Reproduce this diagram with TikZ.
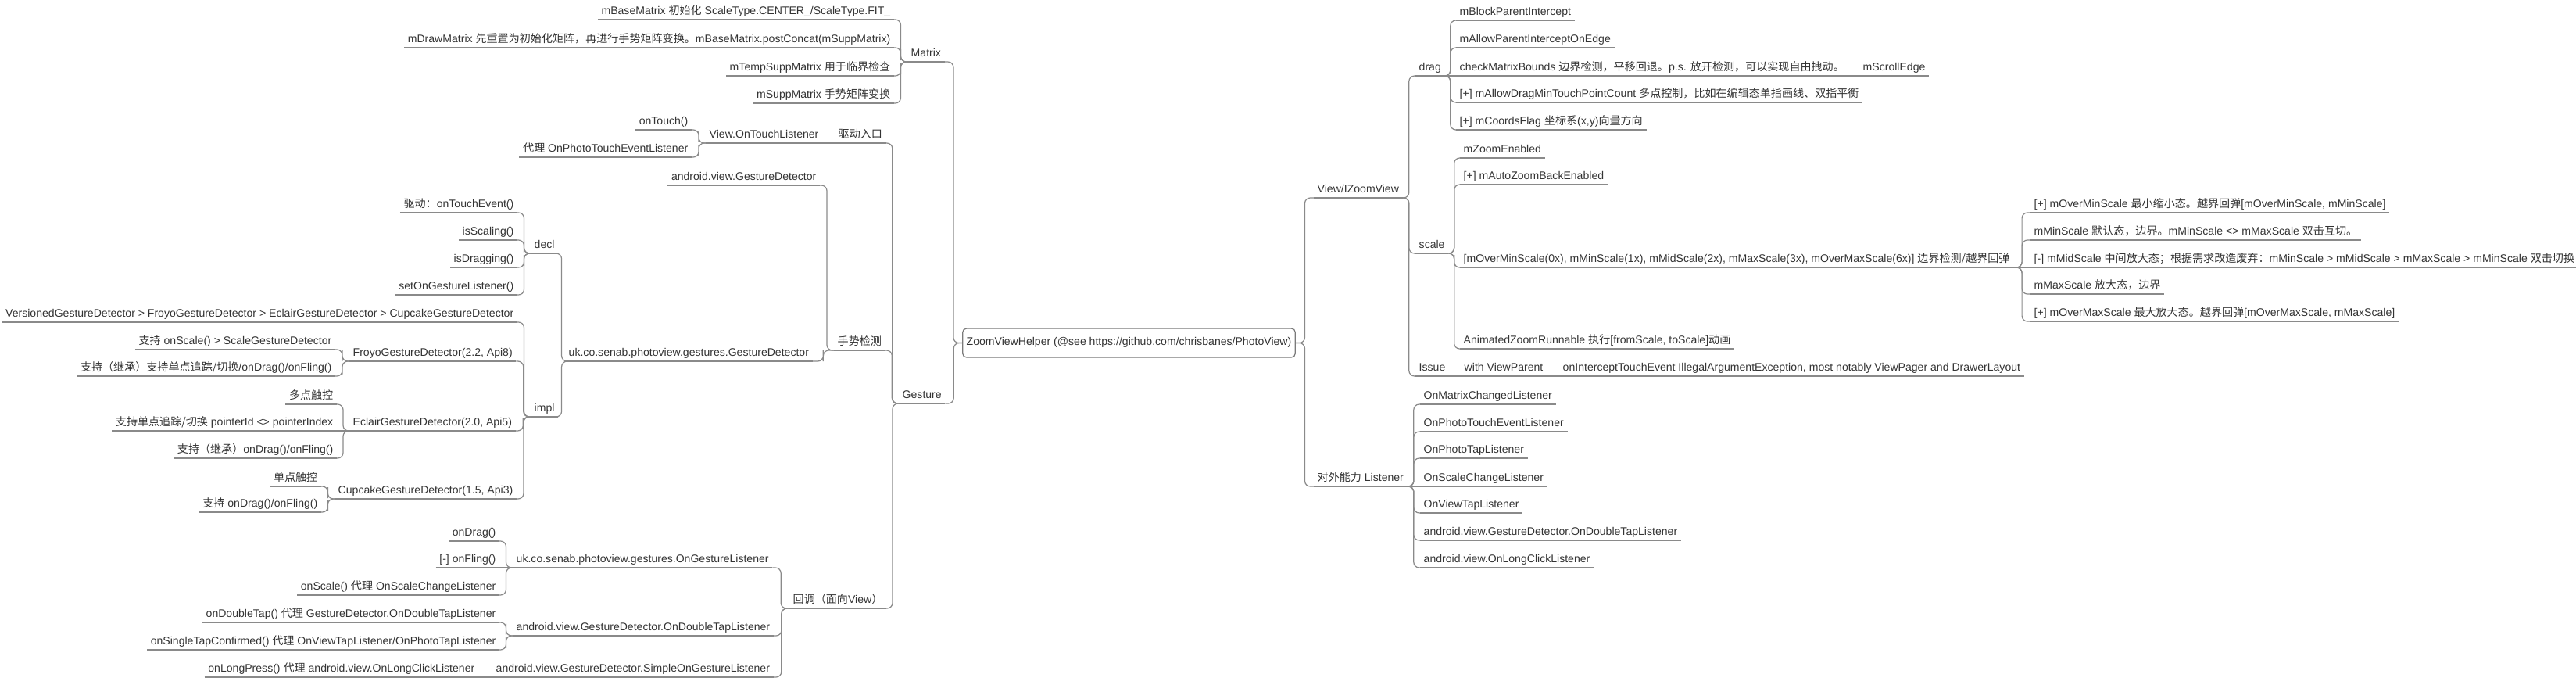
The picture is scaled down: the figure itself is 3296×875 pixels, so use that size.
\documentclass[tikz,border=0pt]{standalone}
\usepackage{fontspec}
\setmainfont{Liberation Sans}
\newfontfamily\zhfont{Noto Sans CJK SC}
\newcommand\zh[1]{{\zhfont #1}}
\usepackage{tikz}
\usetikzlibrary{calc}
\usepackage{xcolor}
\definecolor{TextDark}{HTML}{333333}
\definecolor{LineGray}{HTML}{8A8A8A}
\definecolor{RootGray}{HTML}{7A7A7A}

\tikzset{
  wire/.style={draw=LineGray,line width=0.35pt},
  link/.style={wire,rounded corners=0.07cm},
  br/.style={to path={-| ($(\tikztostart)!0.5!(\tikztotarget)$) |- (\tikztotarget)}},
  txt/.style={font=\fontsize{4}{5}\selectfont,text=TextDark,inner xsep=0.04cm,inner ysep=0.02cm,
    text height=0.1cm,text depth=0.035cm,
    append after command={(\tikzlastnode.south west) edge[wire] (\tikzlastnode.south east)}},
  lt/.style={txt,anchor=south east},
  rt/.style={txt,anchor=south west},
  rootbox/.style={draw=RootGray,line width=0.35pt,rounded corners=0.05cm,fill=white,
    font=\fontsize{4}{5}\selectfont,text=TextDark,inner xsep=0.05cm,
    text height=0.1cm,text depth=0.035cm,minimum height=0.27cm}
}

\begin{document}
\begin{tikzpicture}[x=0.01cm,y=-0.01cm]
        \useasboundingbox (0,0) rectangle (3296,875);
        \node[rootbox] (root) at (1444.5,438.5) {ZoomViewHelper (@see https://github.com/chrisbanes/PhotoView)};
        % left half
        \node[rt] (matrix) at (1161,79) {Matrix};
        \node[lt] (mbase) at (1144,25) {mBaseMatrix \zh{初始化} ScaleType.CENTER\_/ScaleType.FIT\_};
        \node[lt] (mdraw) at (1144,61) {mDrawMatrix \zh{先重置为初始化矩阵，再进行手势矩阵变换。}mBaseMatrix.postConcat(mSuppMatrix)};
        \node[lt] (mtemp) at (1144,97) {mTempSuppMatrix \zh{用于临界检查}};
        \node[lt] (msupp) at (1144,132) {mSuppMatrix \zh{手势矩阵变换}};
        \node[rt] (gesture) at (1150,516) {Gesture};
        \node[rt] (drive) at (1068,183) {\zh{驱动入口}};
        \node[rt] (otl) at (903,183) {View.OnTouchListener};
        \node[lt] (ontouch) at (885,166) {onTouch()};
        \node[lt] (proxytouch) at (885,201) {\zh{代理} OnPhotoTouchEventListener};
        \node[rt] (detect) at (1067,448) {\zh{手势检测}};
        \node[lt] (agd) at (1049,237) {android.view.GestureDetector};
        \node[rt] (ukgd) at (723,462) {uk.co.senab.photoview.gestures.GestureDetector};
        \node[rt] (decl) at (679,324) {decl};
        \node[lt] (ontouchev) at (662,272) {\zh{驱动：}onTouchEvent()};
        \node[lt] (isscal) at (662,307) {isScaling()};
        \node[lt] (isdrag) at (662,342) {isDragging()};
        \node[lt] (setlis) at (662,377) {setOnGestureListener()};
        \node[rt] (impl) at (679,533) {impl};
        \node[lt] (versioned) at (662,412) {VersionedGestureDetector > FroyoGestureDetector > EclairGestureDetector > CupcakeGestureDetector};
        \node[rt] (froyo) at (447,462) {FroyoGestureDetector(2.2, Api8)};
        \node[lt] (froyoA) at (429,447) {\zh{支持} onScale() > ScaleGestureDetector};
        \node[lt] (froyoB) at (429,481) {\zh{支持（继承）支持单点追踪/切换}/onDrag()/onFling()};
        \node[rt] (eclair) at (447,551) {EclairGestureDetector(2.0, Api5)};
        \node[lt] (eclA) at (431,517) {\zh{多点触控}};
        \node[lt] (eclB) at (431,551) {\zh{支持单点追踪/切换} pointerId <> pointerIndex};
        \node[lt] (eclC) at (431,586) {\zh{支持（继承）}onDrag()/onFling()};
        \node[rt] (cupcake) at (428,638) {CupcakeGestureDetector(1.5, Api3)};
        \node[lt] (cupA) at (411,622) {\zh{单点触控}};
        \node[lt] (cupB) at (411,655) {\zh{支持} onDrag()/onFling()};
        \node[rt] (callback) at (1010,778) {\zh{回调（面向}View\zh{）}};
        \node[rt] (ukgl) at (656,726) {uk.co.senab.photoview.gestures.OnGestureListener};
        \node[lt] (ondrag) at (639,692) {onDrag()};
        \node[lt] (onfling) at (639,726) {[-] onFling()};
        \node[lt] (onscale) at (639,761) {onScale() \zh{代理} OnScaleChangeListener};
        \node[rt] (dtl) at (656,813) {android.view.GestureDetector.OnDoubleTapListener};
        \node[lt] (ondbl) at (639,796) {onDoubleTap() \zh{代理} GestureDetector.OnDoubleTapListener};
        \node[lt] (onsingle) at (639,831) {onSingleTapConfirmed() \zh{代理} OnViewTapListener/OnPhotoTapListener};
        \node[rt] (simple) at (630,866) {android.view.GestureDetector.SimpleOnGestureListener};
        \node[lt] (onlong) at (612,866) {onLongPress() \zh{代理} android.view.OnLongClickListener};
        % right half
        \node[rt] (zview) at (1681,253) {View/IZoomView};
        \node[rt] (drag) at (1811,97) {drag};
        \node[rt] (dA) at (1863,26) {mBlockParentIntercept};
        \node[rt] (dB) at (1863,61) {mAllowParentInterceptOnEdge};
        \node[rt] (dC) at (1863,97) {checkMatrixBounds \zh{边界检测，平移回退。}p.s. \zh{放开检测，可以实现自由拽动。}};
        \node[rt] (scrolledge) at (2379,97) {mScrollEdge};
        \node[rt] (dD) at (1863,131) {[+] mAllowDragMinTouchPointCount \zh{多点控制，比如在编辑态单指画线、双指平衡}};
        \node[rt] (dE) at (1863,166) {[+] mCoordsFlag \zh{坐标系}(x,y)\zh{向量方向}};
        \node[rt] (scale) at (1811,324) {scale};
        \node[rt] (zoomen) at (1868,202) {mZoomEnabled};
        \node[rt] (autozoom) at (1868,236) {[+] mAutoZoomBackEnabled};
        \node[rt] (scales) at (1868,342) {[mOverMinScale(0x), mMinScale(1x), mMidScale(2x), mMaxScale(3x), mOverMaxScale(6x)] \zh{边界检测/越界回弹}};
        \node[rt] (smA) at (2598,272) {[+] mOverMinScale \zh{最小缩小态。越界回弹}[mOverMinScale, mMinScale]};
        \node[rt] (smB) at (2598,307) {mMinScale \zh{默认态，边界。}mMinScale <> mMaxScale \zh{双击互切。}};
        \node[rt] (smC) at (2598,342) {[-] mMidScale \zh{中间放大态；根据需求改造废弃：}mMinScale > mMidScale > mMaxScale > mMinScale \zh{双击切换}};
        \node[rt] (smD) at (2598,376) {mMaxScale \zh{放大态，边界}};
        \node[rt] (smE) at (2598,411) {[+] mOverMaxScale \zh{最大放大态。越界回弹}[mOverMaxScale, mMaxScale]};
        \node[rt] (anim) at (1868,446) {AnimatedZoomRunnable \zh{执行}[fromScale, toScale]\zh{动画}};
        \node[rt] (issue) at (1811,481) {Issue};
        \node[rt] (withvp) at (1869,481) {with ViewParent};
        \node[rt] (intercept) at (1995,481) {onInterceptTouchEvent IllegalArgumentException, most notably ViewPager and DrawerLayout};
        \node[rt] (listener) at (1681,622) {\zh{对外能力} Listener};
        \foreach \n/\y/\t in {lsA/517/OnMatrixChangedListener,lsB/552/OnPhotoTouchEventListener,
            lsC/586/OnPhotoTapListener,lsD/622/OnScaleChangeListener,lsE/656/OnViewTapListener,
            lsF/691/android.view.GestureDetector.OnDoubleTapListener,lsG/726/android.view.OnLongClickListener}
          \node[rt] (\n) at (1817,\y) {\t};
        % connectors
        \foreach \c in {matrix,gesture} \draw[link] (\c.south east) to[br] (root.west);
        \foreach \c in {zview,listener} \draw[link] (root.east) to[br] (\c.south west);
        \foreach \c in {mbase,mdraw,mtemp,msupp} \draw[link] (\c.south east) to[br] (matrix.south west);
        \foreach \c in {drive,detect,callback} \draw[link] (\c.south east) to[br] (gesture.south west);
        \foreach \c in {ontouch,proxytouch} \draw[link] (\c.south east) to[br] (otl.south west);
        \foreach \c in {agd,ukgd} \draw[link] (\c.south east) to[br] (detect.south west);
        \foreach \c in {decl,impl} \draw[link] (\c.south east) to[br] (ukgd.south west);
        \foreach \c in {ontouchev,isscal,isdrag,setlis} \draw[link] (\c.south east) to[br] (decl.south west);
        \foreach \c in {versioned,froyo,cupcake} \draw[link] (\c.south east) to[br] (impl.south west);
        \foreach \c in {froyoA,froyoB} \draw[link] (\c.south east) to[br] (froyo.south west);
        \foreach \c in {eclA,eclC} \draw[link] (\c.south east) to[br] (eclair.south west);
        \foreach \c in {cupA,cupB} \draw[link] (\c.south east) to[br] (cupcake.south west);
        \foreach \c in {ukgl,dtl,simple} \draw[link] (\c.south east) to[br] (callback.south west);
        \foreach \c in {ondrag,onscale} \draw[link] (\c.south east) to[br] (ukgl.south west);
        \foreach \c in {ondbl,onsingle} \draw[link] (\c.south east) to[br] (dtl.south west);
        \draw[link] (eclair.south east) to[br] (impl.south west);
        \draw[wire] (otl.south east) -- (drive.south west);
        \draw[wire] (eclB.south east) -- (eclair.south west);
        \draw[wire] (onfling.south east) -- (ukgl.south west);
        \draw[wire] (onlong.south east) -- (simple.south west);
        \foreach \c in {drag,scale,issue} \draw[link] (zview.south east) to[br] (\c.south west);
        \foreach \c in {dA,dB,dD,dE} \draw[link] (drag.south east) to[br] (\c.south west);
        \foreach \c in {zoomen,autozoom,scales,anim} \draw[link] (scale.south east) to[br] (\c.south west);
        \foreach \c in {smA,smB,smD,smE} \draw[link] (scales.south east) to[br] (\c.south west);
        \foreach \c in {lsA,lsB,lsC,lsE,lsF,lsG} \draw[link] (listener.south east) to[br] (\c.south west);
        \draw[wire] (drag.south east) -- (dC.south west);
        \draw[wire] (dC.south east) -- (scrolledge.south west);
        \draw[wire] (scales.south east) -- (smC.south west);
        \draw[wire] (issue.south east) -- (withvp.south west);
        \draw[wire] (withvp.south east) -- (intercept.south west);
        \draw[wire] (listener.south east) -- (lsD.south west);
      \end{tikzpicture}
\end{document}
